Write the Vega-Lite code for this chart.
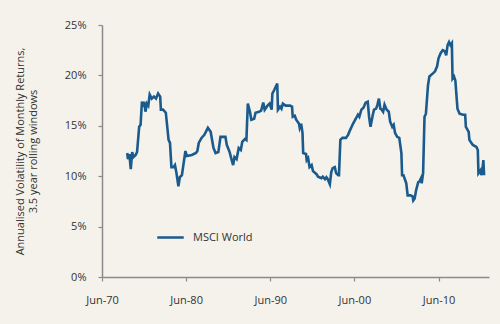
{
  "$schema": "https://vega.github.io/schema/vega-lite/v6.json",
  "autosize": "none",
  "width": 387,
  "height": 252,
  "padding": {"left": 102, "top": 25, "right": 11, "bottom": 47},
  "background": "#f4f2eb",
  "config": {
    "view": {"stroke": null},
    "font": "Open Sans",
    "axis": {"domainColor": "#8a8a8a", "tickColor": "#8a8a8a", "domainWidth": 1.5, "tickWidth": 1.2, "labelColor": "#333333", "labelFontSize": 11, "titleColor": "#333333", "grid": false}
  },
  "data": {"values": [
    {"date": "1973-06-01", "vol": 12.3}, {"date": "1973-07-01", "vol": 11.7}, {"date": "1973-09-01", "vol": 12.2}, {"date": "1973-11-01", "vol": 10.7},
    {"date": "1974-01-01", "vol": 12.4}, {"date": "1974-03-01", "vol": 11.9}, {"date": "1974-06-01", "vol": 12.1}, {"date": "1974-08-01", "vol": 12.4},
    {"date": "1974-11-01", "vol": 14.9}, {"date": "1975-01-01", "vol": 15.1}, {"date": "1975-03-01", "vol": 17.4}, {"date": "1975-05-01", "vol": 16.9},
    {"date": "1975-06-01", "vol": 17.4}, {"date": "1975-08-01", "vol": 16.4}, {"date": "1975-10-01", "vol": 17.2}, {"date": "1975-12-01", "vol": 17.0},
    {"date": "1976-02-01", "vol": 18.1}, {"date": "1976-05-01", "vol": 17.7}, {"date": "1976-08-01", "vol": 17.9}, {"date": "1976-11-01", "vol": 17.7},
    {"date": "1977-02-01", "vol": 18.2}, {"date": "1977-05-01", "vol": 17.9}, {"date": "1977-06-01", "vol": 16.6}, {"date": "1977-09-01", "vol": 16.6},
    {"date": "1978-01-01", "vol": 16.3}, {"date": "1978-05-01", "vol": 13.6}, {"date": "1978-07-01", "vol": 13.3}, {"date": "1978-09-01", "vol": 10.9},
    {"date": "1978-12-01", "vol": 10.9}, {"date": "1979-02-01", "vol": 11.1}, {"date": "1979-04-01", "vol": 10.4}, {"date": "1979-07-01", "vol": 9.0},
    {"date": "1979-09-01", "vol": 9.9}, {"date": "1979-12-01", "vol": 10.1}, {"date": "1980-02-01", "vol": 11.1}, {"date": "1980-05-01", "vol": 12.5},
    {"date": "1980-07-01", "vol": 12.0}, {"date": "1981-02-01", "vol": 12.1}, {"date": "1981-08-01", "vol": 12.3}, {"date": "1981-10-01", "vol": 12.5},
    {"date": "1981-12-01", "vol": 13.3}, {"date": "1982-04-01", "vol": 13.8}, {"date": "1982-08-01", "vol": 14.1}, {"date": "1983-01-01", "vol": 14.8},
    {"date": "1983-05-01", "vol": 14.4}, {"date": "1983-09-01", "vol": 12.8}, {"date": "1983-12-01", "vol": 12.3}, {"date": "1984-04-01", "vol": 12.4},
    {"date": "1984-07-01", "vol": 13.9}, {"date": "1985-02-01", "vol": 13.9}, {"date": "1985-04-01", "vol": 13.1}, {"date": "1985-08-01", "vol": 12.4},
    {"date": "1985-11-01", "vol": 11.6}, {"date": "1986-01-01", "vol": 11.1}, {"date": "1986-03-01", "vol": 11.9}, {"date": "1986-06-01", "vol": 11.7},
    {"date": "1986-09-01", "vol": 12.8}, {"date": "1986-12-01", "vol": 12.6}, {"date": "1987-02-01", "vol": 13.4}, {"date": "1987-06-01", "vol": 13.7},
    {"date": "1987-08-01", "vol": 13.6}, {"date": "1987-10-01", "vol": 17.2}, {"date": "1988-01-01", "vol": 16.4}, {"date": "1988-03-01", "vol": 15.6},
    {"date": "1988-07-01", "vol": 15.7}, {"date": "1988-09-01", "vol": 16.3}, {"date": "1989-02-01", "vol": 16.4}, {"date": "1989-05-01", "vol": 16.5},
    {"date": "1989-08-01", "vol": 17.3}, {"date": "1989-10-01", "vol": 16.6}, {"date": "1990-02-01", "vol": 17.0}, {"date": "1990-05-01", "vol": 17.2},
    {"date": "1990-08-01", "vol": 16.6}, {"date": "1990-09-01", "vol": 18.2}, {"date": "1990-12-01", "vol": 18.6}, {"date": "1991-04-01", "vol": 19.2},
    {"date": "1991-05-01", "vol": 16.6}, {"date": "1991-08-01", "vol": 16.9}, {"date": "1991-10-01", "vol": 16.7}, {"date": "1991-12-01", "vol": 17.2},
    {"date": "1992-04-01", "vol": 17.0}, {"date": "1992-10-01", "vol": 17.0}, {"date": "1993-01-01", "vol": 16.9}, {"date": "1993-02-01", "vol": 15.9},
    {"date": "1993-05-01", "vol": 16.0}, {"date": "1993-07-01", "vol": 15.6}, {"date": "1993-11-01", "vol": 15.2}, {"date": "1993-12-01", "vol": 14.8},
    {"date": "1994-02-01", "vol": 15.2}, {"date": "1994-04-01", "vol": 14.3}, {"date": "1994-05-01", "vol": 12.3}, {"date": "1994-09-01", "vol": 12.2},
    {"date": "1994-10-01", "vol": 11.6}, {"date": "1994-12-01", "vol": 11.8}, {"date": "1995-02-01", "vol": 10.9}, {"date": "1995-05-01", "vol": 11.1},
    {"date": "1995-07-01", "vol": 10.5}, {"date": "1995-12-01", "vol": 10.2}, {"date": "1996-02-01", "vol": 9.95}, {"date": "1996-04-01", "vol": 9.9},
    {"date": "1996-07-01", "vol": 9.8}, {"date": "1996-09-01", "vol": 9.95}, {"date": "1996-12-01", "vol": 9.7}, {"date": "1997-02-01", "vol": 9.9},
    {"date": "1997-04-01", "vol": 9.7}, {"date": "1997-07-01", "vol": 9.2}, {"date": "1997-09-01", "vol": 10.4}, {"date": "1997-11-01", "vol": 10.8},
    {"date": "1998-02-01", "vol": 10.9}, {"date": "1998-04-01", "vol": 10.3}, {"date": "1998-07-01", "vol": 10.1}, {"date": "1998-08-01", "vol": 10.1},
    {"date": "1998-10-01", "vol": 13.6}, {"date": "1999-01-01", "vol": 13.8}, {"date": "1999-06-01", "vol": 13.8}, {"date": "1999-09-01", "vol": 14.1},
    {"date": "1999-12-01", "vol": 14.6}, {"date": "2000-04-01", "vol": 15.2}, {"date": "2000-08-01", "vol": 15.7}, {"date": "2000-11-01", "vol": 16.1},
    {"date": "2001-01-01", "vol": 15.9}, {"date": "2001-04-01", "vol": 16.6}, {"date": "2001-07-01", "vol": 16.8}, {"date": "2001-10-01", "vol": 17.3},
    {"date": "2002-01-01", "vol": 17.4}, {"date": "2002-03-01", "vol": 15.9}, {"date": "2002-05-01", "vol": 14.9}, {"date": "2002-08-01", "vol": 16.0},
    {"date": "2002-10-01", "vol": 16.6}, {"date": "2003-01-01", "vol": 16.7}, {"date": "2003-03-01", "vol": 17.1}, {"date": "2003-05-01", "vol": 17.7},
    {"date": "2003-07-01", "vol": 16.7}, {"date": "2003-09-01", "vol": 16.6}, {"date": "2003-11-01", "vol": 16.4}, {"date": "2004-01-01", "vol": 17.1},
    {"date": "2004-04-01", "vol": 16.6}, {"date": "2004-07-01", "vol": 16.4}, {"date": "2004-09-01", "vol": 15.4}, {"date": "2004-12-01", "vol": 14.9},
    {"date": "2005-02-01", "vol": 15.1}, {"date": "2005-04-01", "vol": 14.3}, {"date": "2005-07-01", "vol": 13.9}, {"date": "2005-10-01", "vol": 13.8},
    {"date": "2006-01-01", "vol": 12.3}, {"date": "2006-02-01", "vol": 10.1}, {"date": "2006-04-01", "vol": 10.1}, {"date": "2006-06-01", "vol": 9.7},
    {"date": "2006-08-01", "vol": 9.3}, {"date": "2006-10-01", "vol": 8.1}, {"date": "2007-02-01", "vol": 8.1}, {"date": "2007-05-01", "vol": 8.0},
    {"date": "2007-06-01", "vol": 7.6}, {"date": "2007-08-01", "vol": 7.8}, {"date": "2007-10-01", "vol": 8.6}, {"date": "2008-01-01", "vol": 9.4},
    {"date": "2008-03-01", "vol": 9.5}, {"date": "2008-05-01", "vol": 9.8}, {"date": "2008-06-01", "vol": 9.3}, {"date": "2008-08-01", "vol": 10.3},
    {"date": "2008-10-01", "vol": 15.9}, {"date": "2008-12-01", "vol": 16.2}, {"date": "2009-03-01", "vol": 19.0}, {"date": "2009-05-01", "vol": 19.9},
    {"date": "2009-10-01", "vol": 20.2}, {"date": "2010-01-01", "vol": 20.4}, {"date": "2010-04-01", "vol": 20.9}, {"date": "2010-06-01", "vol": 21.7},
    {"date": "2010-09-01", "vol": 22.2}, {"date": "2010-12-01", "vol": 22.5}, {"date": "2011-03-01", "vol": 22.4}, {"date": "2011-05-01", "vol": 22.0},
    {"date": "2011-07-01", "vol": 23.0}, {"date": "2011-09-01", "vol": 23.3}, {"date": "2011-11-01", "vol": 23.0}, {"date": "2012-01-01", "vol": 23.2},
    {"date": "2012-02-01", "vol": 19.7}, {"date": "2012-04-01", "vol": 19.9}, {"date": "2012-06-01", "vol": 19.5}, {"date": "2012-09-01", "vol": 16.7},
    {"date": "2012-12-01", "vol": 16.2}, {"date": "2013-05-01", "vol": 16.1}, {"date": "2013-08-01", "vol": 16.1}, {"date": "2013-09-01", "vol": 14.9},
    {"date": "2014-01-01", "vol": 14.4}, {"date": "2014-02-01", "vol": 13.6}, {"date": "2014-05-01", "vol": 13.3}, {"date": "2014-07-01", "vol": 13.1},
    {"date": "2014-12-01", "vol": 12.9}, {"date": "2015-02-01", "vol": 12.6}, {"date": "2015-03-01", "vol": 10.3}, {"date": "2015-06-01", "vol": 10.6},
    {"date": "2015-07-01", "vol": 10.1}, {"date": "2015-09-01", "vol": 10.9}, {"date": "2015-10-01", "vol": 11.6}, {"date": "2015-11-01", "vol": 10.1}
  ]},
  "mark": {"type": "line", "strokeWidth": 2.6, "strokeJoin": "miter", "interpolate": "linear"},
  "encoding": {
    "x": {
      "field": "date", "type": "temporal",
      "scale": {"type": "utc", "domain": [{"year": 1970, "month": 6, "date": 1, "utc": true}, {"year": 2016, "month": 6, "date": 1, "utc": true}]},
      "axis": {
        "title": null,
        "labelExpr": "utcFormat(datum.value, '%b-%y')",
        "values": [{"year": 1970, "month": 6, "date": 1, "utc": true}, {"year": 1980, "month": 6, "date": 1, "utc": true}, {"year": 1990, "month": 6, "date": 1, "utc": true}, {"year": 2000, "month": 6, "date": 1, "utc": true}, {"year": 2010, "month": 6, "date": 1, "utc": true}],
        "tickSize": 4, "labelPadding": 13, "labelFlush": false
      }
    },
    "y": {
      "field": "vol", "type": "quantitative",
      "scale": {"domain": [0, 25], "nice": false},
      "axis": {
        "title": ["Annualised Volatility of Monthly Returns,", "3.5 year rolling windows"],
        "titleFontSize": 11, "titleFontWeight": "normal", "titlePadding": 26, "titleLineHeight": 13,
        "values": [0, 5, 10, 15, 20, 25], "labelExpr": "datum.value + '%'",
        "tickSize": 4, "labelPadding": 12
      }
    },
    "color": {
      "datum": "MSCI World",
      "scale": {"range": ["#1b5a8d"]},
      "legend": {
        "title": null, "orient": "none", "legendX": 54, "legendY": 198,
        "symbolType": "stroke", "symbolStrokeWidth": 2.5, "symbolSize": 700,
        "labelFontSize": 11, "labelColor": "#333333", "labelOffset": 8, "padding": 0
      }
    }
  }
}
